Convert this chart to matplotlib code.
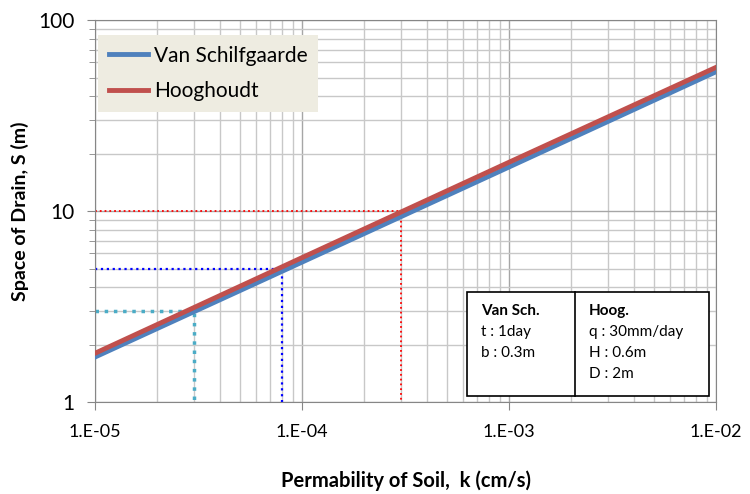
import math
import matplotlib
matplotlib.use("Agg")
import matplotlib.pyplot as plt
import matplotlib.ticker as mticker
from matplotlib.patches import Rectangle

plt.rcParams['font.family'] = ['Lato', 'DejaVu Sans']

# data
k = [1e-5, 1e-4, 1e-3, 1e-2]
s_van = [1.72, 5.4, 17.0, 53.6]
s_hoog = [1.80, 5.7, 18.0, 56.5]

# dotted reading lines
ref_k = [3e-5, 8e-5, 3e-4]
ref_s = [3, 5, 10]
ref_colors = ['#4BACC6', '#0000FF', '#FF0000']
ref_widths = [2.5, 1.6, 1.3]

left_col = ["Van Sch.", "t : 1day", "b : 0.3m"]
right_col = ["Hoog.", "q : 30mm/day", "H : 0.6m", "D : 2m"]

fig = plt.figure(figsize=(7.5, 4.94), dpi=100)
ax = fig.add_axes([0.1267, 0.1862, 0.828, 0.7733])
ax.set_xscale('log')
ax.set_yscale('log')
ax.set_xlim(1e-5, 1e-2)
ax.set_ylim(1, 100)

ax.grid(True, which='major', color='#A6A6A6', lw=1)
ax.grid(True, which='minor', color='#C8C8C8', lw=1)
ax.set_axisbelow(True)

for rk, rs, c, w in zip(ref_k, ref_s, ref_colors, ref_widths):
    ax.plot([1e-5, rk, rk], [rs, rs, 1], ls=':', color=c, lw=w, zorder=2)

ax.plot(k, s_van, color='#4F81BD', lw=3.5, label='Van Schilfgaarde', zorder=3)
ax.plot(k, s_hoog, color='#C0504D', lw=3.5, label='Hooghoudt', zorder=3)

ax.xaxis.set_major_formatter(mticker.FuncFormatter(
    lambda v, p: "1.E-%02d" % round(-math.log10(v))))
ax.yaxis.set_major_formatter(mticker.FuncFormatter(lambda v, p: "%g" % v))
ax.xaxis.set_minor_formatter(mticker.NullFormatter())
ax.yaxis.set_minor_formatter(mticker.NullFormatter())
ax.tick_params(axis='x', which='major', labelsize=13, length=6, color='#868686', pad=10)
ax.tick_params(axis='x', which='minor', length=0)
ax.tick_params(axis='y', which='major', labelsize=15, length=6, color='#868686', pad=9)
ax.tick_params(axis='y', which='minor', length=4, color='#868686')
for sp in ax.spines.values():
    sp.set_color('#868686')

ax.set_xlabel("Permability of Soil,  k (cm/s)", fontsize=14.5, fontweight='bold', labelpad=22)
ax.set_ylabel("Space of Drain, S (m)", fontsize=14, fontweight='bold', labelpad=6)

leg = ax.legend(loc='upper left', bbox_to_anchor=(0.005, 0.96), borderaxespad=0,
                fontsize=15, frameon=True, fancybox=False, handlelength=1.9,
                borderpad=0.5, labelspacing=0.75, handletextpad=0.3)
leg.get_frame().set_facecolor('#EEECE1')
leg.get_frame().set_edgecolor('none')
leg.get_frame().set_alpha(1)

# parameter box
x0, x1, xm = 0.599, 0.989, 0.773
y0, y1 = 0.016, 0.288
ax.add_patch(Rectangle((x0, y0), x1 - x0, y1 - y0, transform=ax.transAxes,
                       facecolor='white', edgecolor='black', lw=1.2, zorder=5))
ax.plot([xm, xm], [y0, y1], transform=ax.transAxes, color='black', lw=1.2, zorder=6)
for i, t in enumerate(left_col):
    ax.text(x0 + 0.022, y1 - 0.05 - i * 0.055, t, transform=ax.transAxes,
            fontsize=11, fontweight='bold' if i == 0 else 'normal', va='center', zorder=7)
for i, t in enumerate(right_col):
    ax.text(xm + 0.022, y1 - 0.05 - i * 0.055, t, transform=ax.transAxes,
            fontsize=11, fontweight='bold' if i == 0 else 'normal', va='center', zorder=7)

fig.savefig("out.png", dpi=100)
